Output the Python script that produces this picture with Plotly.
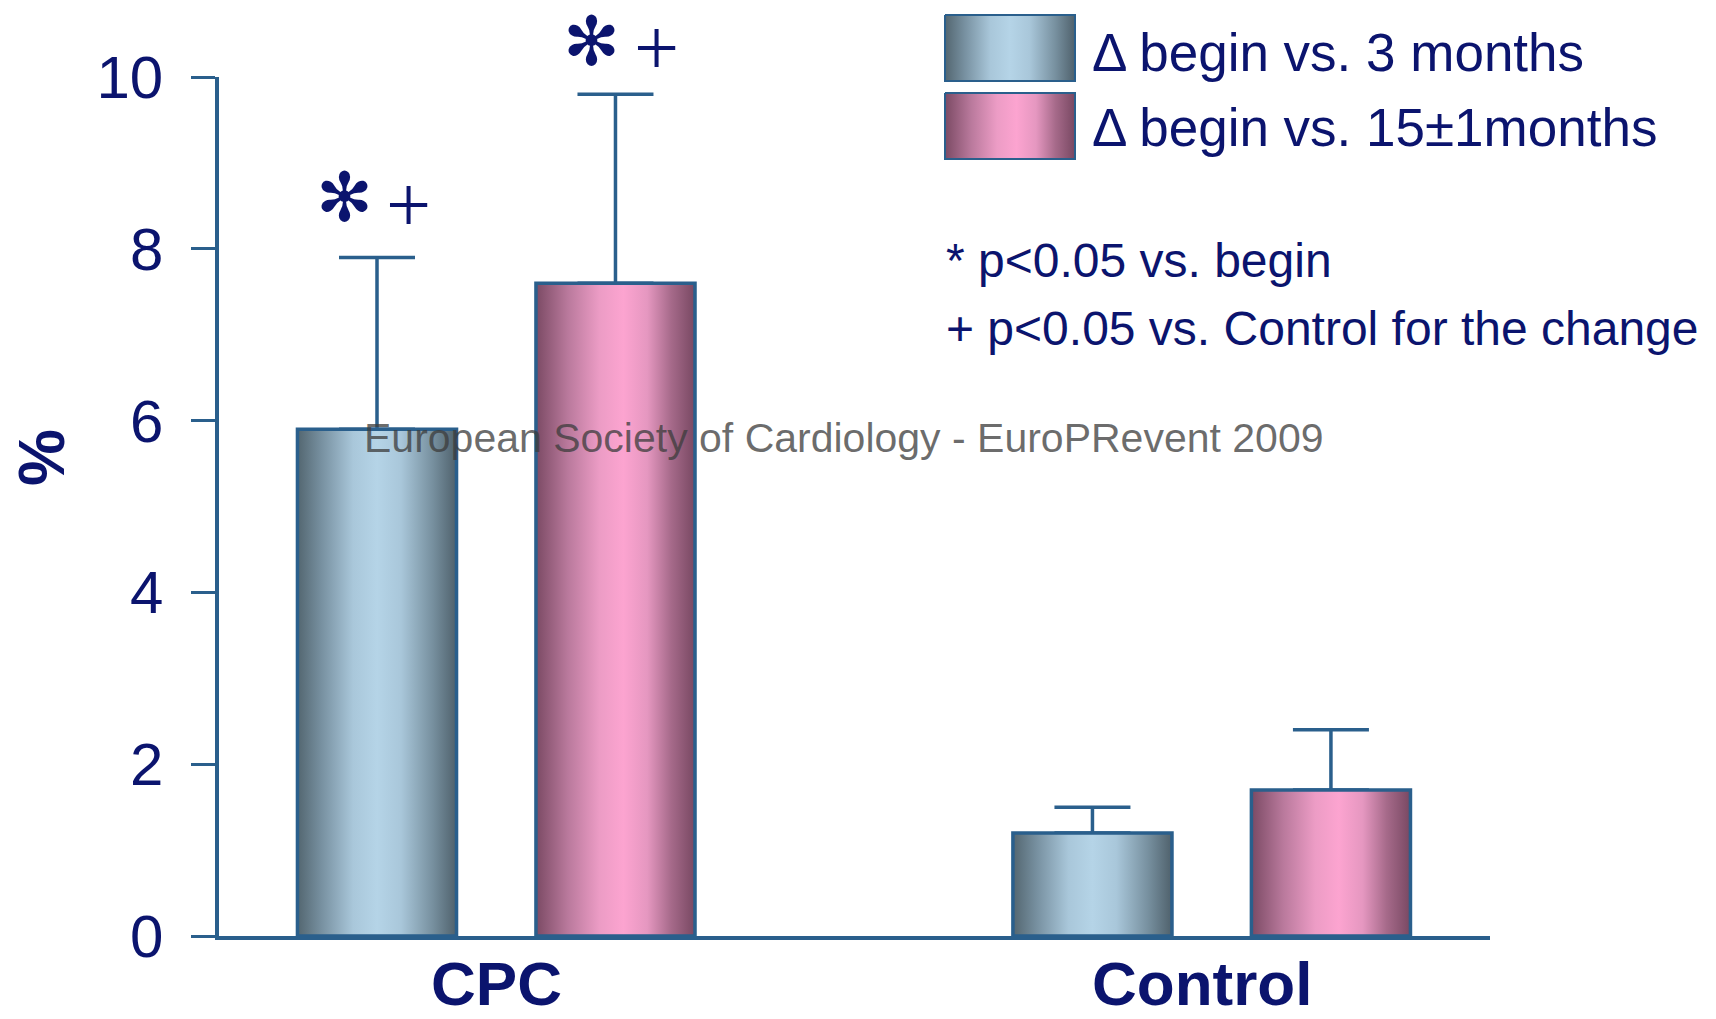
import plotly.graph_objects as go

# ---- data ----
categories = ["CPC", "Control"]
series_names = ["\u0394 begin vs. 3 months", "\u0394 begin vs. 15\u00b11months"]
change_3m = [5.9, 1.2]
sd_3m = [2.0, 0.3]
change_15m = [7.6, 1.7]
sd_15m = [2.2, 0.7]
sig_3m = [True, False]      # * and + markers above the bar
sig_15m = [True, False]
y_ticks = [0, 2, 4, 6, 8, 10]
footnotes = ["* p<0.05 vs. begin", "+ p<0.05 vs. Control for the change"]
watermark = "European Society of Cardiology - EuroPRevent 2009"

# ---- styling ----
W, H = 1716, 1019
NAVY = "#0B146E"
STEEL = "#2A5F8C"
FONT = "Arial, Liberation Sans, sans-serif"
BAR_W = 0.667
blue_scale = [[0, "#536670"], [0.15, "#7790a0"], [0.35, "#a9c7da"], [0.5, "#b5d4e7"],
              [0.65, "#a9c7da"], [0.85, "#77909f"], [1, "#4f616c"]]
pink_scale = [[0, "#7b4a64"], [0.2, "#b9799c"], [0.4, "#ec9cc5"], [0.55, "#fca4d0"],
              [0.7, "#e597c0"], [0.85, "#a66a8a"], [1, "#784862"]]
label_xshift = [0, -10]     # fine placement of the group labels

# group centres along a numeric x axis; two bars per group
centres = [1.5 + 3 * i for i in range(len(categories))]
x_3m = [c - 0.5 for c in centres]
x_15m = [c + 0.5 for c in centres]

fig = go.Figure()

# (positions, values, sd, shading, significance, star/plus offsets in px)
series = [
    (x_3m, change_3m, sd_3m, blue_scale, sig_3m, (-33, 31, 60, 52)),
    (x_15m, change_15m, sd_15m, pink_scale, sig_15m, (-24, 41, 53, 46)),
]

for xs, vals, sds, cscale, sig, (dx_star, dx_plus, dy_star, dy_plus) in series:
    # bars carry the error bars (upper side only)
    fig.add_trace(go.Bar(
        x=xs, y=vals, width=BAR_W,
        marker=dict(color="rgba(0,0,0,0)", line=dict(width=0)),
        error_y=dict(type="data", array=sds, arrayminus=[0] * len(sds), symmetric=False,
                     color=STEEL, thickness=3.5, width=38),
        hoverinfo="skip", showlegend=False,
    ))
    # cylinder-like shading of each bar body
    for x, v in zip(xs, vals):
        fig.add_trace(go.Scatter(
            x=[x - BAR_W / 2, x + BAR_W / 2, x + BAR_W / 2, x - BAR_W / 2, x - BAR_W / 2],
            y=[0, 0, v, v, 0],
            mode="lines", fill="toself",
            fillgradient=dict(type="horizontal", colorscale=cscale),
            line=dict(color=STEEL, width=3.5),
            hoverinfo="skip", showlegend=False,
        ))
    # significance markers
    for x, v, s, flag in zip(xs, vals, sds, sig):
        if not flag:
            continue
        fig.add_annotation(x=x, y=v + s, xref="x", yref="y", text="\u273b",
                           showarrow=False, xshift=dx_star, yshift=dy_star,
                           font=dict(family="DejaVu Sans", size=68, color=NAVY))
        fig.add_annotation(x=x, y=v + s, xref="x", yref="y", text="+",
                           showarrow=False, xshift=dx_plus, yshift=dy_plus,
                           font=dict(family="Liberation Serif", size=80, color=NAVY))

# group labels under the axis
for c, name, dx in zip(centres, categories, label_xshift):
    fig.add_annotation(x=c, y=1 - 983 / H, xref="x", yref="paper", text=f"<b>{name}</b>",
                       showarrow=False, xshift=dx, xanchor="center", yanchor="middle",
                       font=dict(family=FONT, size=62, color=NAVY))

# legend swatches on a full-page overlay axis (pixel units)
swatches = [(15, 81, blue_scale), (93, 159, pink_scale)]
for (y0, y1, cscale) in swatches:
    fig.add_trace(go.Scatter(
        x=[945, 1075, 1075, 945, 945], y=[y0, y0, y1, y1, y0],
        xaxis="x2", yaxis="y2", mode="lines", fill="toself",
        fillgradient=dict(type="horizontal", colorscale=cscale),
        line=dict(color=STEEL, width=2),
        hoverinfo="skip", showlegend=False,
    ))

for name, yc in zip(series_names, [52, 127]):
    fig.add_annotation(x=1090 / W, y=1 - yc / H, xref="paper", yref="paper",
                       text=name, showarrow=False, xanchor="left", yanchor="middle",
                       font=dict(family=FONT, size=53, color=NAVY))

for note, yc in zip(footnotes, [260, 328]):
    fig.add_annotation(x=944 / W, y=1 - yc / H, xref="paper", yref="paper",
                       text=note, showarrow=False, xanchor="left", yanchor="middle",
                       font=dict(family=FONT, size=48, color=NAVY))

fig.add_annotation(x=844 / W, y=1 - 438 / H, xref="paper", yref="paper",
                   text=watermark, showarrow=False, xanchor="center", yanchor="middle",
                   font=dict(family=FONT, size=41, color="rgba(60,60,60,0.75)"))

fig.add_annotation(x=42 / W, y=1 - 458 / H, xref="paper", yref="paper",
                   text="<b>%</b>", showarrow=False, textangle=-90,
                   xanchor="center", yanchor="middle",
                   font=dict(family=FONT, size=64, color=NAVY))

fig.update_layout(
    width=W, height=H,
    margin=dict(l=0, r=0, t=0, b=0, autoexpand=False),
    paper_bgcolor="white", plot_bgcolor="rgba(0,0,0,0)",
    barmode="overlay",
    xaxis=dict(domain=[219 / W, 1490 / W], range=[0.3375, 5.667], automargin=False,
               showline=True, linecolor=STEEL, linewidth=3.5,
               showgrid=False, zeroline=False, ticks="", showticklabels=False),
    yaxis=dict(domain=[1 - 936 / H, 1 - 77 / H], range=[0, 10], automargin=False,
               showline=True, linecolor=STEEL, linewidth=3.5,
               showgrid=False, zeroline=False,
               tickvals=y_ticks, ticks="outside", ticklen=24, tickwidth=3, tickcolor=STEEL,
               ticklabelstandoff=16,
               tickfont=dict(family=FONT, size=60, color=NAVY)),
    xaxis2=dict(domain=[0, 1], range=[0, W], visible=False, anchor="y2", automargin=False),
    yaxis2=dict(domain=[0, 1], range=[H, 0], visible=False, anchor="x2", automargin=False),
)

fig.write_html("out.html")
